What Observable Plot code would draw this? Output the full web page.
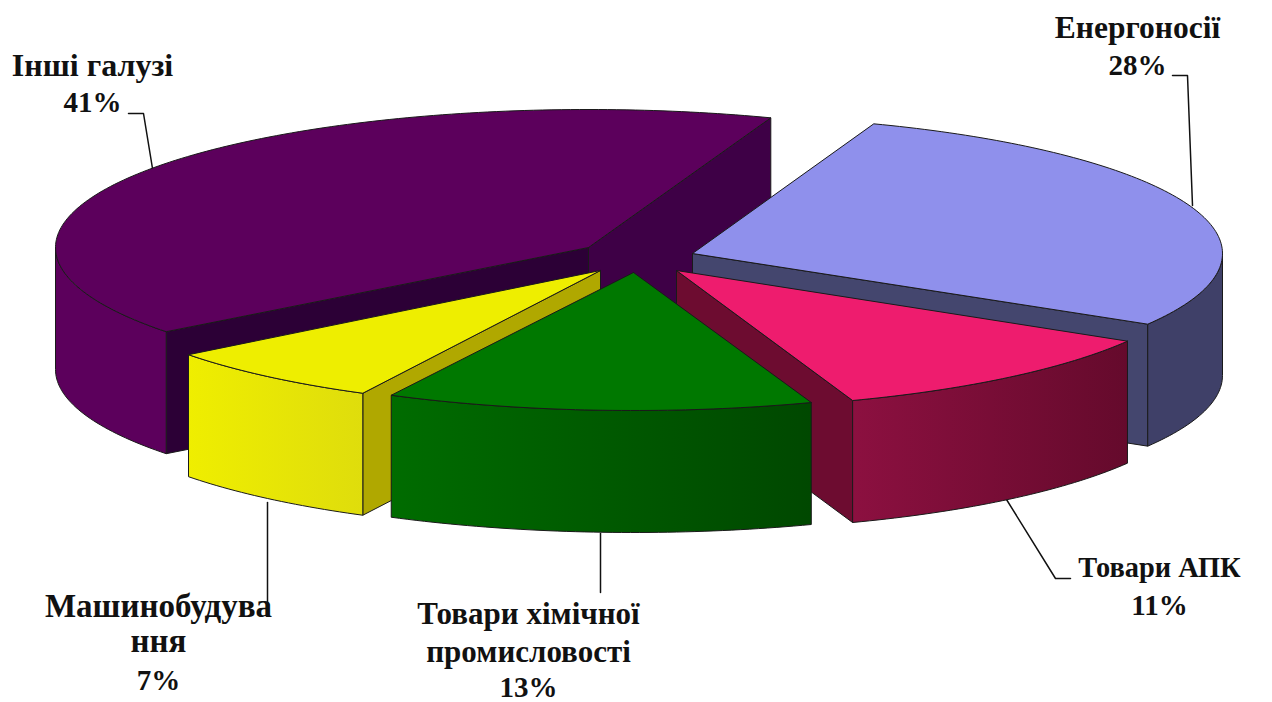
<!DOCTYPE html>
<html lang="uk">
<head>
<meta charset="utf-8">
<title>Структура за галузями</title>
<script src="https://cdn.jsdelivr.net/npm/d3@7"></script>
<script src="https://cdn.jsdelivr.net/npm/@observablehq/plot@0.6"></script>
<style>
  html, body { margin: 0; padding: 0; background: #fff; overflow: hidden; }
  svg { display: block; }
</style>
</head>
<body>
<div id="chart"></div>
<script>
// Shares by industry, clockwise from the first slice
const categories = ["Енергоносії", "Товари АПК", "Товари хімічної\nпромисловості", "Машинобудува\nння", "Інші галузі"];
const shares = [28, 11, 13, 7, 41];

// Slice colours: top face, outer wall gradient (left, right), and the two cut faces
const topColors = ["#8f90ec", "#ee1c6e", "#007800", "#eeee00", "#5c005c"];
const wallLeft = ["#3f4068", "#8c1040", "#006c00", "#efee00", "#5c005c"];
const wallRight = ["#3f4068", "#650a2c", "#004800", "#dfdd0c", "#5c005c"];
const cutStartColors = ["#44466e", "#6d0c30", "#004c00", "#b0a800", "#2c0036"];
const cutEndColors = ["#44466e", "#6d0c30", "#004c00", "#b0a800", "#3e0046"];

// Pie geometry in the chart's plane; each exploded slice has its own apex and width
const firstAngle = 70, ry = 138, depth = 122;
const rxs = [530, 525, 530, 520, 533];
const apexX = [692, 676, 633, 600, 588];
const apexY = [253, 270, 272, 270, 247];
const drawOrder = [4, 0, 1, 3, 2];

// Label placement: baseline of each line, sizes of the name and of the percentage
const labelX = [1137, 1159, 528, 158, 92];
const nameBaselines = [[37], [576], [623, 661], [616, 651], [75]];
const valueBaselines = [74, 614, 696, 689, 111];
const nameSizes = [31.5, 28.4, 31, 33, 32];
const valueSize = 29;
const leaders = [
  [[1172, 75], [1187, 75], [1192, 205]],
  [[1070, 578], [1055, 578], [1006, 499]],
  [[600, 533], [600, 592]],
  [[267, 502], [267, 605]],
  [[128, 113], [143, 113], [152, 168]]
];

const rad = d => d * Math.PI / 180;
const rim = (i, a, dz = 0) => ({x: apexX[i] + rxs[i] * Math.cos(rad(a)), y: apexY[i] - ry * Math.sin(rad(a)) + dz});
const arc = (i, from, to, dz = 0) => {
  const n = Math.max(1, Math.ceil(Math.abs(from - to)));
  return d3.range(n + 1).map(k => rim(i, from + (to - from) * k / n, dz));
};
const closed = pts => [...pts, pts[0]];

// Start and end angle of every slice, running clockwise
let running = firstAngle;
const spans = shares.map(v => {
  const span = [running, running - v * 3.6];
  running = span[1];
  return span;
});

const faceStyle = {x: "x", y: "y", stroke: "#1a1a1a", strokeWidth: 1, strokeLinejoin: "round"};
const face = (pts, fill) => Plot.line(closed(pts), {...faceStyle, fill});

const pieMarks = drawOrder.flatMap(i => {
  const [a0, a1] = spans[i];
  const apex = {x: apexX[i], y: apexY[i]};
  const apexLow = {x: apexX[i], y: apexY[i] + depth};
  const marks = [];
  // A cut face shows only where it turns towards the viewer
  if (Math.cos(rad(a0)) < 0) {
    marks.push(face([apex, rim(i, a0), rim(i, a0, depth), apexLow], cutStartColors[i]));
  }
  if (Math.cos(rad(a1)) > 0) {
    marks.push(face([apex, rim(i, a1), rim(i, a1, depth), apexLow], cutEndColors[i]));
  }
  // Outer wall: the part of the rim on the near half of the ellipse
  const wallFrom = Math.min(a0, 0), wallTo = Math.max(a1, -180);
  if (wallFrom > wallTo) {
    marks.push(face([...arc(i, wallFrom, wallTo), ...arc(i, wallTo, wallFrom, depth)], `url(#wall-${i})`));
  }
  marks.push(face([apex, ...arc(i, a0, a1)], topColors[i]));
  return marks;
});

const leaderMarks = leaders.map(path =>
  Plot.line(path.map(([x, y]) => ({x, y})), {x: "x", y: "y", stroke: "#111", strokeWidth: 1.5})
);

// One row per text line, each placed by its baseline
const labelRows = categories.flatMap((name, i) => [
  ...name.split("\n").map((line, k) => ({text: line, x: labelX[i], y: nameBaselines[i][k], size: nameSizes[i]})),
  {text: `${shares[i]}%`, x: labelX[i], y: valueBaselines[i], size: valueSize}
]);

const chart = Plot.plot({
  width: 1272,
  height: 702,
  margin: 0,
  style: {background: "#fff"},
  x: {domain: [0, 1272], range: [0, 1272], axis: null},
  y: {domain: [0, 702], range: [0, 702], axis: null},
  marks: [
    ...leaderMarks,
    ...pieMarks,
    Plot.text(labelRows, {
      x: "x", y: "y", text: "text", fontSize: d => d.size,
      fontFamily: "Liberation Serif", fontWeight: "bold",
      fill: "#111", textAnchor: "middle", lineAnchor: "bottom"
    })
  ]
});

// Horizontal shading of the outer walls
const defs = d3.select(chart).insert("defs", ":first-child");
shares.forEach((_, i) => {
  const g = defs.append("linearGradient").attr("id", `wall-${i}`).attr("x1", 0).attr("x2", 1).attr("y1", 0).attr("y2", 0);
  g.append("stop").attr("offset", "0%").attr("stop-color", wallLeft[i]);
  g.append("stop").attr("offset", "100%").attr("stop-color", wallRight[i]);
});

document.getElementById("chart").append(chart);
</script>
</body>
</html>
